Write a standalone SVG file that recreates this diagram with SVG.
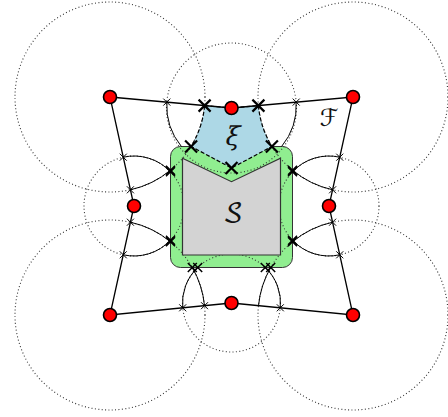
<svg xmlns="http://www.w3.org/2000/svg" xmlns:xlink="http://www.w3.org/1999/xlink" width="448" height="417" viewBox="0 0 448 417">
<style>
.dot{fill:none;stroke:#333;stroke-width:1.1;stroke-dasharray:1 2.4}
.edge{fill:none;stroke:#000;stroke-width:1.3}
.arc{fill:none;stroke:#000;stroke-width:1}
.node{fill:#ff0000;stroke:#000;stroke-width:1.6}
.xs{stroke:#000;stroke-width:1;fill:none}
.xm{stroke:#000;stroke-width:1.5;fill:none}
.xb{stroke:#000;stroke-width:2.2;fill:none}
.lbl{font-family:"DejaVu Math TeX Gyre","DejaVu Serif",serif;font-size:26px;fill:#111;text-anchor:middle;font-style:italic}
.cal{font-family:"DejaVu Sans","Noto Sans",sans-serif;font-size:24px;fill:#111;text-anchor:middle;font-weight:normal}
.cals{font-family:"DejaVu Math TeX Gyre","DejaVu Sans",sans-serif;font-size:26px;fill:#111;text-anchor:middle;font-weight:normal}
</style>
<defs>
<path id="xsm" d="M-3.5,-3.5L3.5,3.5M-3.5,3.5L3.5,-3.5"/>
<path id="xmd" d="M-4.5,-4.5L4.5,4.5M-4.5,4.5L4.5,-4.5"/>
<path id="xbg" d="M-6,-6L6,6M-6,6L6,-6"/>
</defs>
<rect width="448" height="417" fill="#fff"/>
<g id="region-green">
<rect x="170.5" y="146.5" width="122" height="121" rx="10" fill="#90ee90" stroke="#333" stroke-width="1"/>
</g>
<g id="circles">
<circle class="dot" cx="110" cy="97" r="95"/>
<circle class="dot" cx="353" cy="97" r="95"/>
<circle class="dot" cx="110" cy="315" r="95"/>
<circle class="dot" cx="353" cy="315" r="95"/>
<circle class="dot" cx="231.5" cy="108" r="65"/>
<circle class="dot" cx="231.5" cy="303" r="49"/>
<circle class="dot" cx="134" cy="206" r="50"/>
<circle class="dot" cx="329" cy="206" r="50"/>
</g>
<g id="region-xi">
<path d="M204.6,105.6 L231.5,108 L258.4,105.6 A95,95 0 0 0 271.9,146.5 L231.5,168 L191.1,146.5 A95,95 0 0 0 204.6,105.6 Z" fill="#add8e6" stroke="#000" stroke-width="1.2" stroke-dasharray="4 2"/>
<text class="lbl" x="231" y="145">ξ</text>
</g>
<g id="region-S">
<path d="M182.5,158.3 L231.5,181.7 L280.5,158.3 L280.5,255 L182.5,255 Z" fill="#d3d3d3" stroke="#333" stroke-width="1.2"/>
<text class="cals" x="233" y="222">𝒮</text>
</g>
<g id="label-F">
<text class="cal" x="329" y="126">ℱ</text>
</g>
<g id="connectors">
<path class="edge" d="M110,97 L231.5,108 L353,97 L329,206 L353,315 L231.5,303 L110,315 L134,206 Z"/>
<path class="arc" d="M166.8,102.1 A65,65 0 0 0 181.4,146.5"/>
<path class="arc" d="M296.2,102.1 A65,65 0 0 1 281.6,146.5"/>
<path class="arc" d="M123.25,157.2 A50,50 0 0 1 170.5,171.8"/>
<path class="arc" d="M130.4,189.8 A95,95 0 0 0 170.5,170.2"/>
<path class="arc" d="M130.4,222.2 A95,95 0 0 1 170.5,241.8"/>
<path class="arc" d="M123.25,254.8 A50,50 0 0 0 170.5,240.2"/>
<path class="arc" d="M339.75,157.2 A50,50 0 0 0 292.5,171.8"/>
<path class="arc" d="M332.6,189.8 A95,95 0 0 1 292.5,170.2"/>
<path class="arc" d="M332.6,222.2 A95,95 0 0 0 292.5,241.8"/>
<path class="arc" d="M339.75,254.8 A50,50 0 0 1 292.5,240.2"/>
<path class="arc" d="M182.7,307.8 A49,49 0 0 1 197.7,267.5"/>
<path class="arc" d="M204.5,305.7 A95,95 0 0 0 192.3,267.5"/>
<path class="arc" d="M280.3,307.8 A49,49 0 0 0 265.3,267.5"/>
<path class="arc" d="M258.5,305.7 A95,95 0 0 1 270.7,267.5"/>
</g>
<g id="markers">
<use href="#xsm" class="xs" x="166.8" y="102.1"/>
<use href="#xsm" class="xs" x="296.2" y="102.1"/>
<use href="#xsm" class="xs" x="123.25" y="157.2"/>
<use href="#xsm" class="xs" x="130.4" y="189.8"/>
<use href="#xsm" class="xs" x="130.4" y="222.2"/>
<use href="#xsm" class="xs" x="123.25" y="254.8"/>
<use href="#xsm" class="xs" x="339.75" y="157.2"/>
<use href="#xsm" class="xs" x="332.6" y="189.8"/>
<use href="#xsm" class="xs" x="332.6" y="222.2"/>
<use href="#xsm" class="xs" x="339.75" y="254.8"/>
<use href="#xsm" class="xs" x="182.7" y="307.8"/>
<use href="#xsm" class="xs" x="204.5" y="305.7"/>
<use href="#xsm" class="xs" x="280.3" y="307.8"/>
<use href="#xmd" class="xm" x="170.5" y="170.2"/>
<use href="#xmd" class="xm" x="170.5" y="171.8"/>
<use href="#xmd" class="xm" x="170.5" y="241.8"/>
<use href="#xmd" class="xm" x="170.5" y="240.2"/>
<use href="#xmd" class="xm" x="292.5" y="170.2"/>
<use href="#xmd" class="xm" x="292.5" y="171.8"/>
<use href="#xmd" class="xm" x="292.5" y="241.8"/>
<use href="#xmd" class="xm" x="292.5" y="240.2"/>
<use href="#xmd" class="xm" x="192.3" y="267.5"/>
<use href="#xmd" class="xm" x="197.7" y="267.5"/>
<use href="#xmd" class="xm" x="265.3" y="267.5"/>
<use href="#xmd" class="xm" x="270.7" y="267.5"/>
<use href="#xbg" class="xb" x="204.6" y="105.6"/>
<use href="#xbg" class="xb" x="258.4" y="105.6"/>
<use href="#xbg" class="xb" x="191.1" y="146.5"/>
<use href="#xbg" class="xb" x="271.9" y="146.5"/>
<use href="#xbg" class="xb" x="231.5" y="168"/>
</g>
<g id="node-TL"><circle class="node" cx="110" cy="97" r="6.5"/></g>
<g id="node-TC"><circle class="node" cx="231.5" cy="108" r="6.5"/></g>
<g id="node-TR"><circle class="node" cx="353" cy="97" r="6.5"/></g>
<g id="node-ML"><circle class="node" cx="134" cy="206" r="6.5"/></g>
<g id="node-MR"><circle class="node" cx="329" cy="206" r="6.5"/></g>
<g id="node-BL"><circle class="node" cx="110" cy="315" r="6.5"/></g>
<g id="node-BC"><circle class="node" cx="231.5" cy="303" r="6.5"/></g>
<g id="node-BR"><circle class="node" cx="353" cy="315" r="6.5"/></g>
</svg>
